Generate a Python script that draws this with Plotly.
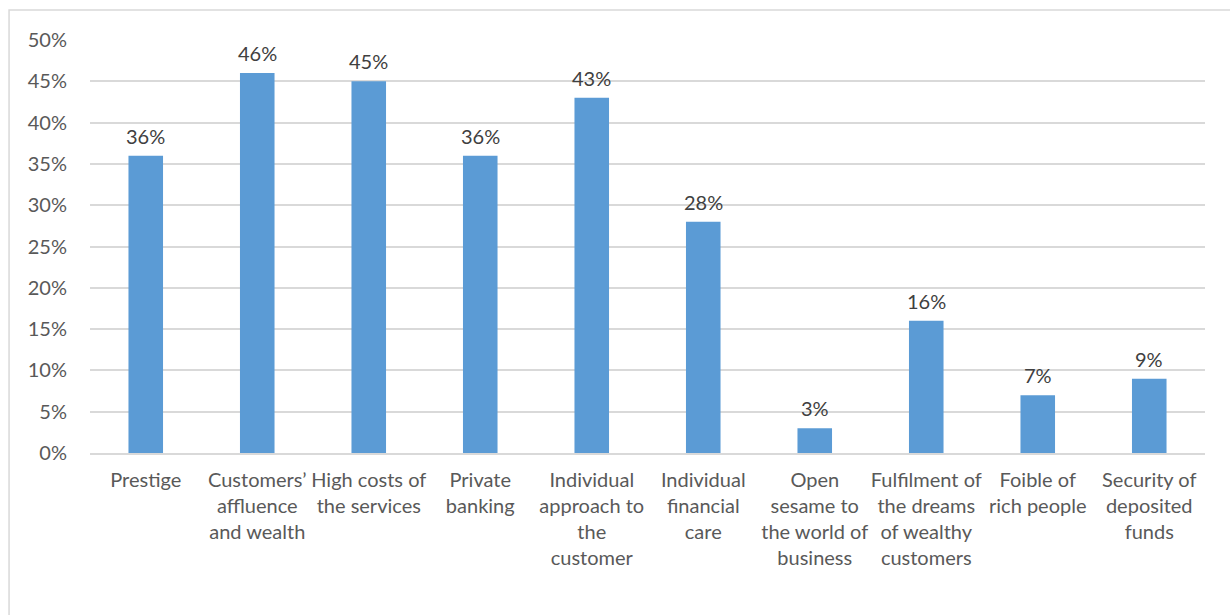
import plotly.graph_objects as go

# Survey results: associations with the bank's premium offering
categories = [
    "Prestige",
    "Customers’ affluence and wealth",
    "High costs of the services",
    "Private banking",
    "Individual approach to the customer",
    "Individual financial care",
    "Open sesame to the world of business",
    "Fulfilment of the dreams of wealthy customers",
    "Foible of rich people",
    "Security of deposited funds",
]
tick_labels = [
    "Prestige",
    "Customers’<br>affluence<br>and wealth",
    "High costs of<br>the services",
    "Private<br>banking",
    "Individual<br>approach to<br>the<br>customer",
    "Individual<br>financial<br>care",
    "Open<br>sesame to<br>the world of<br>business",
    "Fulfilment of<br>the dreams<br>of wealthy<br>customers",
    "Foible of<br>rich people",
    "Security of<br>deposited<br>funds",
]
shares = [0.36, 0.46, 0.45, 0.36, 0.43, 0.28, 0.03, 0.16, 0.07, 0.09]

FONT = "Lato"
SIZE = 20

fig = go.Figure(
    go.Bar(
        x=categories,
        y=shares,
        marker=dict(color="#5B9BD5", line=dict(width=0)),
        cliponaxis=False,
    )
)

# value labels above each bar
annotations = [
    dict(
        x=c, y=v, xref="x", yref="y",
        text=f"{round(v * 100)}%",
        showarrow=False, yanchor="bottom", yshift=6,
        font=dict(family=FONT, size=SIZE, color="#404040"),
    )
    for c, v in zip(categories, shares)
]

fig.update_layout(
    width=1230,
    height=615,
    margin=dict(l=90, r=25, t=40, b=162),
    paper_bgcolor="white",
    plot_bgcolor="white",
    bargap=0.69,
    showlegend=False,
    font=dict(family=FONT, size=SIZE, color="#595959"),
    annotations=annotations,
    shapes=[
        dict(
            type="rect", xref="paper", yref="paper",
            x0=-0.0726, x1=1.2, y0=-0.6, y1=1.0726,
            line=dict(color="#D9D9D9", width=1.5),
            fillcolor="rgba(0,0,0,0)", layer="below",
        )
    ],
)

fig.update_xaxes(
    tickmode="array",
    tickvals=categories,
    ticktext=tick_labels,
    tickangle=0,
    showgrid=False,
    showline=True,
    linecolor="#D9D9D9",
    linewidth=1.5,
    ticks="",
    ticklabelstandoff=8,
    tickfont=dict(family=FONT, size=SIZE, color="#595959"),
)
fig.update_yaxes(
    range=[0, 0.5],
    dtick=0.05,
    tickformat=".0%",
    showgrid=True,
    gridcolor="#D9D9D9",
    gridwidth=1.5,
    zeroline=False,
    showline=False,
    ticks="",
    ticklabelstandoff=22,
    tickfont=dict(family=FONT, size=SIZE, color="#595959"),
)

fig.write_html("out.html")
